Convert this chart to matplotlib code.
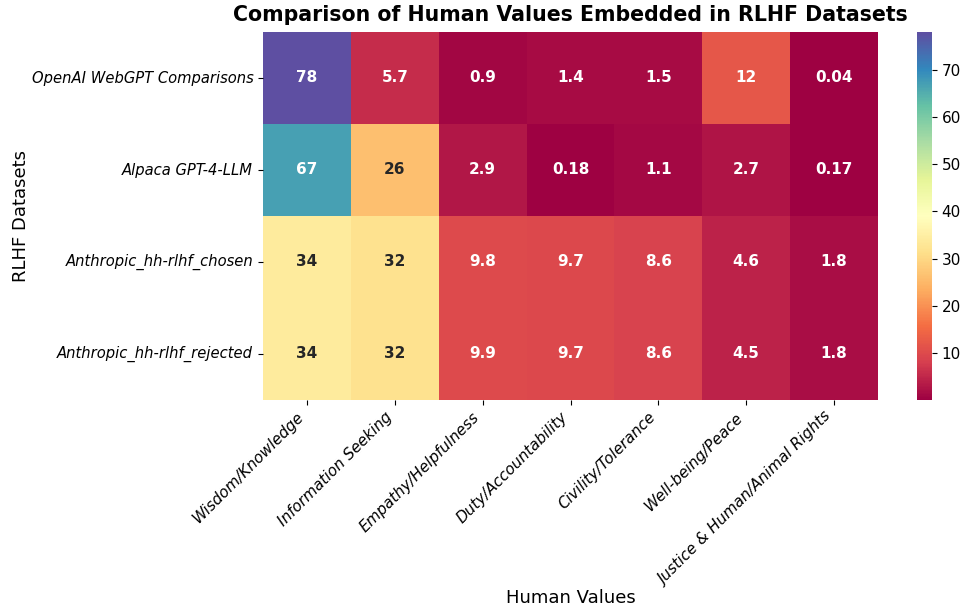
import matplotlib
matplotlib.use("Agg")
from matplotlib import pyplot as plt
import seaborn as sns
import pandas as pd

datasets = ["OpenAI WebGPT Comparisons", "Alpaca GPT-4-LLM",
            "Anthropic_hh-rlhf_chosen", "Anthropic_hh-rlhf_rejected"]
values = ["Wisdom/Knowledge", "Information Seeking", "Empathy/Helpfulness",
          "Duty/Accountability", "Civility/Tolerance", "Well-being/Peace",
          "Justice & Human/Animal Rights"]
webgpt = [78, 5.7, 0.9, 1.4, 1.5, 12, 0.04]
alpaca = [67, 26, 2.9, 0.18, 1.1, 2.7, 0.17]
hh_chosen = [34, 32, 9.8, 9.7, 8.6, 4.6, 1.8]
hh_rejected = [34, 32, 9.9, 9.7, 8.6, 4.5, 1.8]

df = pd.DataFrame([webgpt, alpaca, hh_chosen, hh_rejected],
                  index=datasets, columns=values)

W, H = 966, 609
fig = plt.figure(figsize=(9.66, 6.09), dpi=100)
ax = fig.add_axes([263 / W, 1 - 400 / H, (878 - 263) / W, (400 - 32) / H])
cax = fig.add_axes([917 / W, 1 - 400 / H, (932 - 917) / W, (400 - 32) / H])
sns.heatmap(df, cmap="Spectral", annot=True, ax=ax, cbar_ax=cax,
            annot_kws={"fontsize": 11, "fontweight": "bold"})
ax.set_title("Comparison of Human Values Embedded in RLHF Datasets",
             fontsize=14.8, fontweight="bold", pad=8)
ax.set_xlabel("Human Values", fontsize=13, labelpad=0.5)
ax.set_ylabel("RLHF Datasets", fontsize=13, labelpad=1)
ax.set_xticks(ax.get_xticks())
ax.set_xticklabels(values, rotation=45, ha="right", fontstyle="italic", fontsize=11)
ax.set_yticklabels(datasets, rotation=0, fontstyle="italic", fontsize=10.6)
cax.tick_params(labelsize=11)
plt.savefig("out.png", dpi=100)
